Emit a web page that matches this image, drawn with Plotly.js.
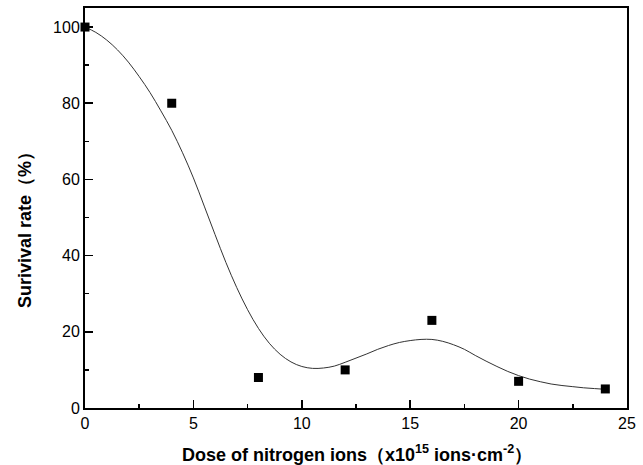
<!DOCTYPE html>
<html>
<head>
<meta charset="utf-8">
<script src="https://cdn.plot.ly/plotly-3.0.1.min.js"></script>
<style>html,body{margin:0;padding:0;background:#fff;}#chart{width:643px;height:465px;}</style>
</head>
<body>
<div id="chart"></div>
<script>
// Measured data points
const doseValues = [0, 4, 8, 12, 16, 20, 24];
const survivalValues = [100, 80, 8, 10, 23, 7, 5];

// Fitted curve
const curveDose = [0, 0.5, 1, 1.5, 2, 2.5, 3, 3.5, 4, 4.5, 5, 5.5, 6, 6.5, 7, 7.5, 8, 8.5, 9, 9.5, 10, 10.5, 11, 11.5, 12, 12.5, 13, 13.5, 14, 14.5, 15, 15.5, 16, 16.5, 17, 17.5, 18, 18.5, 19, 19.5, 20, 20.5, 21, 21.5, 22, 22.5, 23, 23.5, 24];
const curveSurvival = [100, 98.6, 96.6, 94.0, 90.8, 87.0, 82.8, 78.0, 72.9, 67.0, 60.4, 53.0, 45.5, 38.2, 31.6, 25.8, 20.9, 17.0, 14.1, 12.1, 10.9, 10.4, 10.5, 11.0, 12.0, 13.1, 14.2, 15.4, 16.4, 17.2, 17.7, 18.0, 18.0, 17.5, 16.6, 15.4, 13.8, 12.3, 10.9, 9.6, 8.5, 7.6, 6.9, 6.3, 5.9, 5.6, 5.3, 5.1, 4.9];

const xTickVals = [0, 5, 10, 15, 20, 25];
const yTickVals = [0, 20, 40, 60, 80, 100];

const font = 'Arial, "Liberation Sans", sans-serif';

const traces = [
  {
    x: curveDose, y: curveSurvival, type: 'scatter', mode: 'lines',
    line: {color: '#333333', width: 1, shape: 'spline', smoothing: 1},
    hoverinfo: 'skip', showlegend: false
  },
  {
    x: doseValues, y: survivalValues, type: 'scatter', mode: 'markers',
    marker: {symbol: 'square', size: 9, color: '#000000'},
    cliponaxis: false, showlegend: false
  }
];

const axisCommon = {
  showgrid: false, zeroline: false, showline: true, linecolor: '#000', linewidth: 2,
  mirror: true, ticks: 'inside', tickcolor: '#000', tickwidth: 1.5, ticklen: 8,
  tickfont: {family: font, size: 16, color: '#000'},
  minor: {ticks: 'inside', ticklen: 4, tickwidth: 1.5, tickcolor: '#000', showgrid: false}
};

const layout = {
  width: 643, height: 465,
  margin: {l: 85, r: 16, t: 8, b: 57},
  paper_bgcolor: '#fff', plot_bgcolor: '#fff',
  xaxis: Object.assign({}, axisCommon, {
    range: [0, 25], tickvals: xTickVals, ticktext: xTickVals.map(String),
    minor: Object.assign({}, axisCommon.minor, {dtick: 2.5, tick0: 0})
  }),
  yaxis: Object.assign({}, axisCommon, {
    range: [0, 105], tickvals: yTickVals, ticktext: yTickVals.map(String),
    minor: Object.assign({}, axisCommon.minor, {dtick: 10, tick0: 0})
  }),
  annotations: [
    {
      xref: 'paper', yref: 'paper', x: (180 - 85) / 542, y: (408 - 453) / 400,
      xanchor: 'left', yanchor: 'middle', showarrow: false,
      text: '<b>Dose of nitrogen ions（x10<sup>15</sup> ions·cm<sup>-2</sup>）</b>',
      font: {family: font, size: 18, color: '#000'}
    },
    {
      xref: 'paper', yref: 'paper', x: (25 - 85) / 542, y: (408 - 226) / 400,
      xanchor: 'center', yanchor: 'middle', showarrow: false, textangle: -90,
      text: '<b>Surivival rate（%）</b>',
      font: {family: font, size: 18, color: '#000'}
    }
  ]
};

Plotly.newPlot('chart', traces, layout, {displayModeBar: false, staticPlot: true});
</script>
</body>
</html>
